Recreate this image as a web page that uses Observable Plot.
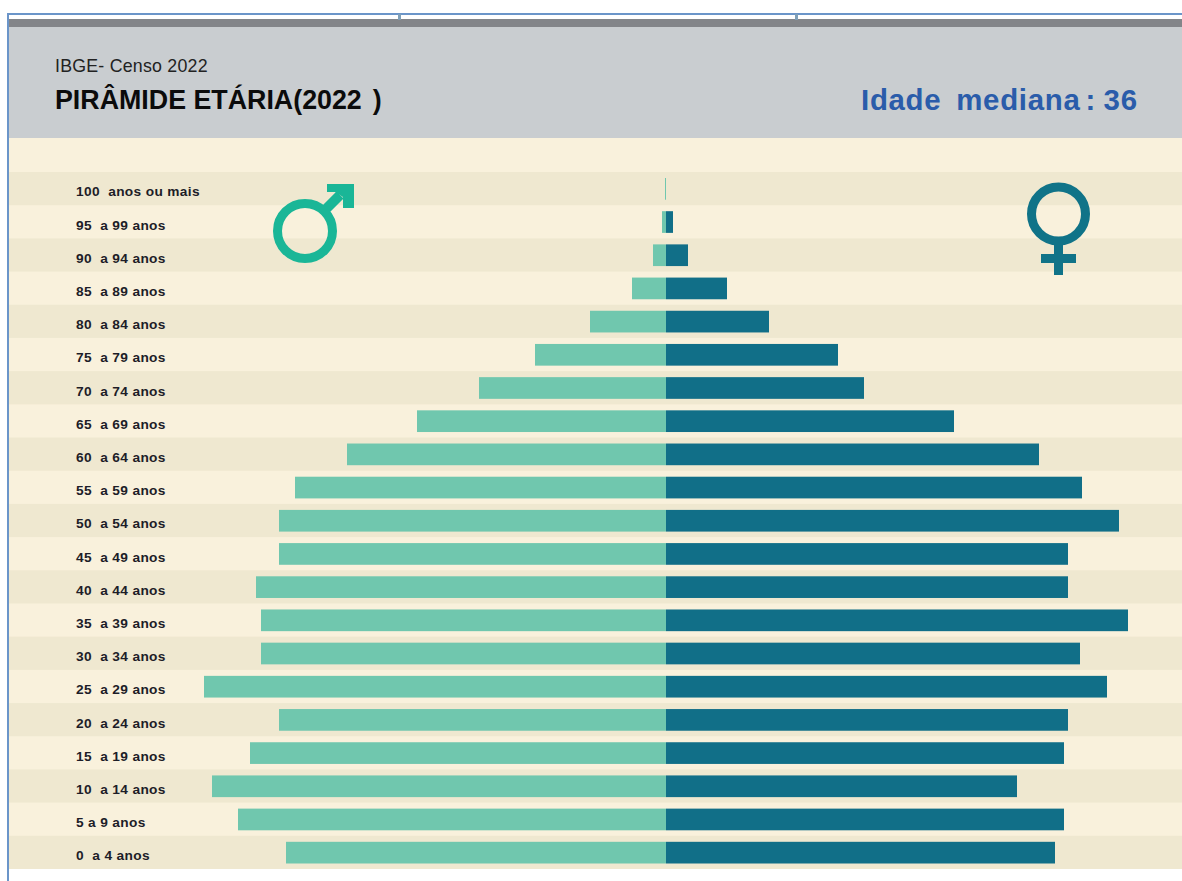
<!DOCTYPE html>
<html lang="pt">
<head>
<meta charset="utf-8">
<script src="https://cdn.jsdelivr.net/npm/d3@7"></script>
<script src="https://cdn.jsdelivr.net/npm/@observablehq/plot@0.6"></script>
<style>
html,body{margin:0;padding:0;background:#fff;overflow:hidden;}
#page{position:relative;width:1182px;height:881px;font-family:"Liberation Sans",Arial,sans-serif;overflow:hidden;}
.abs{position:absolute;}
#frameT{left:7px;top:13px;width:1175px;height:2px;background:#6b95c9;}
#frameL{left:7px;top:13px;width:2px;height:868px;background:#6b95c9;}
.tick{top:14px;width:3px;height:6px;background:#7f9fb8;}
#strip{left:9px;top:19px;width:1173px;height:8px;background:#838589;}
#header{left:9px;top:27px;width:1173px;height:111px;background:#c9cdd0;}
#src{left:55px;top:56px;font-size:17.8px;line-height:20px;color:#222;white-space:pre;letter-spacing:.22px;}
#ttl{left:55px;top:85px;font-size:26.8px;line-height:30px;font-weight:700;color:#0b0b0b;white-space:pre;}
#med{left:861px;top:83px;font-size:29.4px;line-height:34px;font-weight:700;color:#2a5caa;white-space:pre;letter-spacing:.72px;}
#chart{left:9px;top:138px;}
#chart svg{display:block;}
#icons{left:0;top:0;pointer-events:none;}
</style>
</head>
<body>
<div id="page">
  <div class="abs" id="strip"></div>
  <div class="abs" id="header"></div>
  <div class="abs" id="frameT"></div>
  <div class="abs" id="frameL"></div>
  <div class="abs tick" style="left:398px"></div>
  <div class="abs tick" style="left:795px"></div>
  <div class="abs" id="src">IBGE- Censo 2022</div>
  <div class="abs" id="ttl">PIRÂMIDE ETÁRIA(2022<span style="margin-left:3.5px"> </span>)</div>
  <div class="abs" id="med">Idade <span style="margin-left:6px">mediana</span><span style="margin-left:5px">:</span><span style="margin-left:7.5px">36</span></div>
  <div class="abs" id="chart"></div>
  <svg class="abs" id="icons" width="1182" height="881" aria-hidden="true">
    <circle cx="305" cy="231" r="27.5" fill="none" stroke="#1ab697" stroke-width="9"/>
    <path d="M322 213 L340 195" fill="none" stroke="#1ab697" stroke-width="10"/>
    <path d="M327 184 H354 V208 H343 V197 L335 192 H327 Z" fill="#1ab697"/>
    <circle cx="1058.5" cy="214" r="27" fill="none" stroke="#107388" stroke-width="9"/>
    <path d="M1054 244 H1063 V254 H1076 V263 H1063 V275 H1054 V263 H1041 V254 H1054 Z" fill="#107388"/>
  </svg>
</div>
<script>
const ageLabels = ["100  anos ou mais","95  a 99 anos","90  a 94 anos","85  a 89 anos","80  a 84 anos","75  a 79 anos","70  a 74 anos","65  a 69 anos","60  a 64 anos","55  a 59 anos","50  a 54 anos","45  a 49 anos","40  a 44 anos","35  a 39 anos","30  a 34 anos","25  a 29 anos","20  a 24 anos","15  a 19 anos","10  a 14 anos","5 a 9 anos","0  a 4 anos"];
const male   = [1,4,13,34,76,131,187,249,319,371,387,387,410,405,405,462,387,416,454,428,380];
const female = [0,7,22,61,103,172,198,288,373,416,453,402,402,462,414,441,402,398,351,398,389];
const xDomain = [-657, 516];
const stripeColors = ["#efe8d0","#f9f1dc"];

const rows = ageLabels.map((age,i)=>({age,male:male[i],female:female[i],i}));

const chart = Plot.plot({
  width:1173, height:731,
  marginTop:34, marginBottom:0, marginLeft:0, marginRight:0,
  style:{background:"#f9f1dc",fontFamily:"'Liberation Sans',Arial,sans-serif"},
  x:{domain:xDomain,range:[0,1173],axis:null},
  y:{domain:ageLabels,padding:0,round:false,axis:null},
  marks:[
    Plot.barX(rows.filter(d=>d.i%2===0),{y:"age",x1:()=>xDomain[0],x2:()=>xDomain[1],fill:stripeColors[0]}),
    Plot.barX(rows,{y:"age",x1:()=>0,x2:d=>-d.male,fill:"#70c7ae",insetTop:6,insetBottom:5.5}),
    Plot.barX(rows.filter(d=>d.female>0),{y:"age",x1:()=>0,x2:"female",fill:"#116f88",insetTop:6,insetBottom:5.5}),
    Plot.text(rows,{y:"age",text:"age",frameAnchor:"left",dx:66.5,dy:3,textAnchor:"start",fontSize:13.7,fontWeight:700,fill:"#1d1d28"})
  ]
});
chart.querySelectorAll("text").forEach(t=>t.style.letterSpacing="0.35px");
document.getElementById("chart").append(chart);
</script>
</body>
</html>
